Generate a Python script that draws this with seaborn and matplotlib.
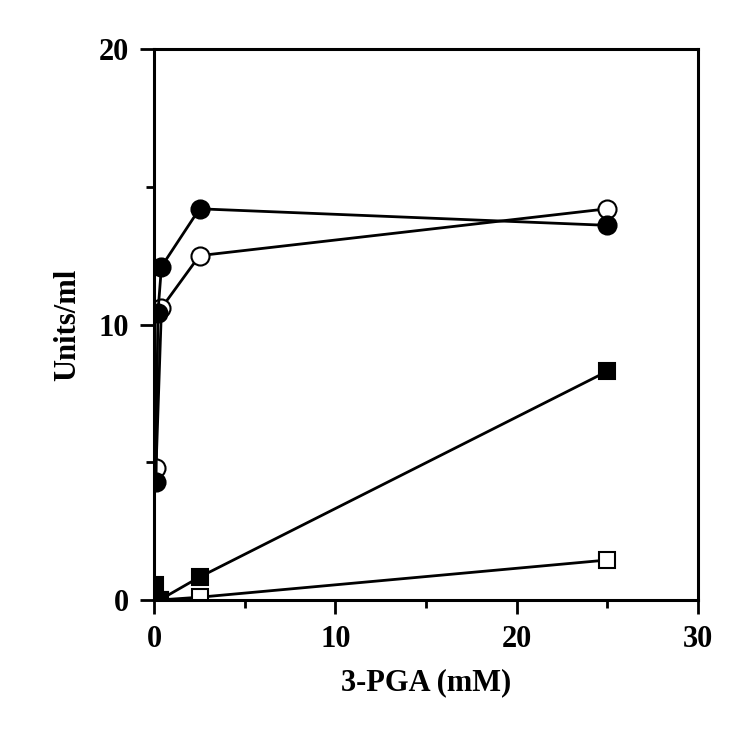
import numpy as np
import pandas as pd
import matplotlib
matplotlib.use('Agg')
import matplotlib.pyplot as plt
import seaborn as sns
from matplotlib.ticker import MultipleLocator

# data (3-PGA in mM, activity in units/ml)
x_filled_circle = [0.1, 0.2, 0.4, 2.5, 25]
y_filled_circle = [4.3, 10.4, 12.1, 14.2, 13.6]

x_open_circle = [0.1, 0.4, 2.5, 25]
y_open_circle = [4.8, 10.6, 12.5, 14.2]

x_filled_square = [0.05, 0.3, 2.5, 25]
y_filled_square = [0.55, 0.0, 0.83, 8.3]

x_open_square = [0.05, 0.3, 2.5, 25]
y_open_square = [0.0, 0.0, 0.1, 1.45]

x_ticks = [0, 10, 20, 30]
y_ticks = [0, 10, 20]

sns.set_style('ticks')
plt.rcParams['font.family'] = ['Liberation Serif', 'DejaVu Serif']
plt.rcParams['font.weight'] = 'bold'
plt.rcParams['text.color'] = 'black'
plt.rcParams['axes.labelcolor'] = 'black'
plt.rcParams['xtick.color'] = 'black'
plt.rcParams['ytick.color'] = 'black'

fig = plt.figure(figsize=(7.56, 7.34), dpi=100)
ax = fig.add_axes([0.204, 0.1826, 0.719, 0.7506])

series = [
    (x_open_square, y_open_square, 's', 'white'),
    (x_filled_square, y_filled_square, 's', 'black'),
    (x_open_circle, y_open_circle, 'o', 'white'),
    (x_filled_circle, y_filled_circle, 'o', 'black'),
]
for xs, ys, m, fc in series:
    df = pd.DataFrame({'x': xs, 'y': ys})
    sns.lineplot(data=df, x='x', y='y', sort=False, estimator=None, ax=ax,
                 color='black', linewidth=2.0, marker=m,
                 markersize=13 if m == 'o' else 12,
                 markerfacecolor=fc, markeredgecolor='black',
                 markeredgewidth=1.5, zorder=3)

ax.set_xlim(0, 30)
ax.set_ylim(0, 20)
ax.set_xticks(x_ticks)
ax.set_yticks(y_ticks)
ax.xaxis.set_minor_locator(MultipleLocator(5))
ax.yaxis.set_minor_locator(MultipleLocator(5))
ax.tick_params(which='major', direction='out', length=10, width=2, labelsize=22, pad=8)
ax.tick_params(which='minor', direction='out', length=6, width=2)
for s in ax.spines.values():
    s.set_linewidth(2.2)
    s.set_color('black')
    s.set_zorder(4)

ax.set_xlabel('3-PGA (mM)', fontsize=22, fontweight='bold', labelpad=10)
ax.set_ylabel('Units/ml', fontsize=22, fontweight='bold', labelpad=12)

fig.savefig('out.png', dpi=100)
